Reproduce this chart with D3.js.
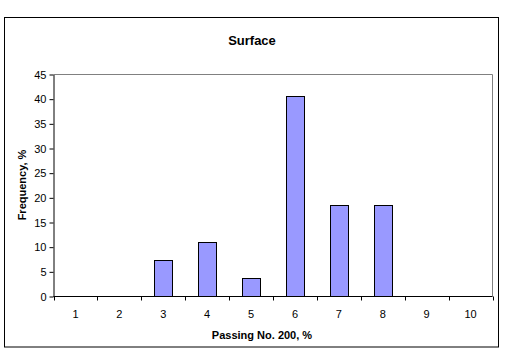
<!DOCTYPE html>
<html>
<head>
<meta charset="utf-8">
<script src="https://cdn.jsdelivr.net/npm/d3@7"></script>
<style>
	body { margin: 0; background: #fff; }
	text { font-family: "Liberation Sans", Arial, sans-serif; }
</style>
</head>
<body>
<svg id="chart"></svg>
<script>
// values
let categories = ['1', '2', '3', '4', '5', '6', '7', '8', '9', '10'];
let frequency = [0, 0, 7.41, 11.11, 3.70, 40.74, 18.52, 18.52, 0, 0];
let yTicks = [0, 5, 10, 15, 20, 25, 30, 35, 40, 45];

function makeChart() {
	let w = 506;
	let h = 354;
	let left = 53.5, right = 492.5, top = 74.5, bottom = 296.5;

	let chart = d3.select('#chart')
		.attr('width', w)
		.attr('height', h);

	// outer frame
	chart.append('rect')
		.attr('x', 4.5).attr('y', 17.5)
		.attr('width', 494).attr('height', 329.5)
		.attr('fill', 'none')
		.attr('stroke', '#000');

	let x = d3.scaleBand()
		.domain(categories)
		.range([left, right]);

	let y = d3.scaleLinear()
		.domain([0, 45])
		.range([bottom, top]);

	// plot area border (top and right in gray)
	chart.append('path')
		.attr('d', `M${left},${top}H${right}V${bottom}`)
		.attr('fill', 'none')
		.attr('stroke', '#808080');

	// bars
	let bw = x.bandwidth() * 0.4;
	chart.selectAll('rect.bar')
		.data(frequency.map((v, i) => ({ cat: categories[i], v: v })).filter(d => d.v > 0))
		.enter()
		.append('rect')
		.attr('class', 'bar')
		.attr('x', d => Math.round(x(d.cat) + x.bandwidth() / 2 - bw / 2) + 0.5)
		.attr('y', d => Math.round(y(d.v)) + 0.5)
		.attr('width', Math.round(bw))
		.attr('height', d => bottom - Math.round(y(d.v)) - 0.5)
		.attr('fill', '#9999FF')
		.attr('stroke', '#000');

	// y axis
	let yAxis = chart.append('g')
		.attr('transform', `translate(${left},0)`)
		.call(d3.axisLeft(y).tickValues(yTicks).tickSize(4).tickSizeOuter(0).tickPadding(3));
	yAxis.selectAll('text').style('font-size', '11px').attr('fill', '#000');

	// x axis, ticks at band edges
	let xg = chart.append('g').attr('transform', `translate(0,${bottom})`);
	xg.append('line')
		.attr('x1', left).attr('x2', right)
		.attr('stroke', '#000');
	let edges = categories.map(c => x(c)).concat([right]);
	xg.selectAll('line.tick')
		.data(edges)
		.enter()
		.append('line')
		.attr('class', 'tick')
		.attr('x1', d => Math.round(d) + 0.5).attr('x2', d => Math.round(d) + 0.5)
		.attr('y1', 0).attr('y2', 4)
		.attr('stroke', '#000');
	xg.selectAll('text')
		.data(categories)
		.enter()
		.append('text')
		.attr('x', d => x(d) + x.bandwidth() / 2)
		.attr('y', 21)
		.attr('text-anchor', 'middle')
		.style('font-size', '11px')
		.text(d => d);

	// title and axis titles
	chart.append('text')
		.attr('x', 252).attr('y', 45)
		.attr('text-anchor', 'middle')
		.style('font-size', '13px').style('font-weight', 'bold')
		.text('Surface');

	chart.append('text')
		.attr('x', 262).attr('y', 339)
		.attr('text-anchor', 'middle')
		.style('font-size', '11px').style('font-weight', 'bold')
		.text('Passing No. 200, %');

	chart.append('text')
		.attr('transform', `translate(26,185) rotate(-90)`)
		.attr('text-anchor', 'middle')
		.style('font-size', '11px').style('font-weight', 'bold')
		.text('Frequency, %');
}

window.onload = function () {
	makeChart();
}
</script>
</body>
</html>
